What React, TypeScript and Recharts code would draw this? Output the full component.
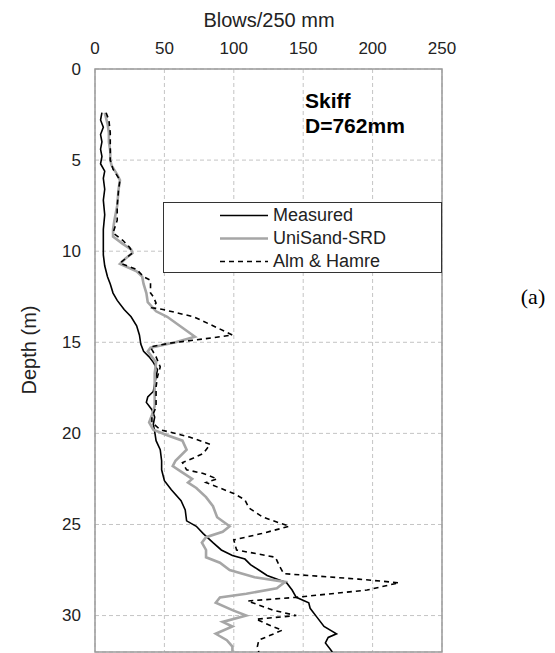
import { CartesianGrid, Legend, Line, LineChart, ReferenceArea, XAxis, YAxis } from "recharts";

const blowTicks = [0, 50, 100, 150, 200, 250];
const depthTicks = [0, 5, 10, 15, 20, 25, 30];

// [depth (m), blows/250 mm]
const measured: [number, number][] = [
  [2.4, 5], [2.8, 4], [3.2, 6], [3.6, 4], [4.0, 5], [4.4, 4], [4.8, 5], [5.2, 4], [5.6, 7], [6.0, 6],
  [6.6, 7], [7.2, 6], [8.0, 7], [8.8, 6], [9.6, 6], [10.2, 6], [10.8, 7], [11.4, 9], [11.8, 11], [12.3, 13],
  [12.7, 16], [13.2, 21], [13.6, 26], [14.1, 30], [14.6, 32], [15.1, 33], [15.5, 35], [15.8, 39], [16.1, 42], [16.5, 45],
  [16.9, 44], [17.3, 43], [17.7, 42], [18.0, 38], [18.3, 37], [18.7, 41], [19.1, 43], [19.5, 42], [19.9, 43], [20.4, 44],
  [20.9, 47], [21.5, 48], [22.0, 48], [22.6, 50], [23.1, 55], [23.7, 62], [24.2, 65], [24.8, 66], [25.1, 73], [25.5, 78],
  [26.0, 85], [26.4, 91], [26.7, 99], [26.9, 108], [27.2, 112], [27.5, 118], [27.8, 124], [28.2, 138], [28.6, 142], [29.0, 145],
  [29.3, 154], [29.6, 155], [30.1, 160], [30.6, 165], [31.0, 174], [31.2, 168], [31.5, 166], [32.0, 171],
];

const uniSand: [number, number][] = [
  [2.4, 7], [3.0, 9], [3.5, 10], [4.0, 10], [4.5, 11], [5.0, 11], [5.3, 12], [5.8, 16], [6.1, 18], [6.6, 17],
  [7.5, 16], [8.3, 14], [8.8, 13], [9.2, 13], [9.6, 20], [9.9, 26], [10.1, 27], [10.4, 22], [10.7, 18], [11.1, 30],
  [11.4, 34], [11.8, 35], [12.3, 37], [12.8, 38], [13.3, 44], [13.6, 52], [14.2, 63], [14.7, 72], [15.0, 58], [15.3, 40],
  [15.5, 38], [16.1, 44], [16.7, 43], [17.3, 43], [18.0, 43], [18.5, 43], [19.0, 41], [19.4, 39], [19.8, 42], [20.1, 52],
  [20.4, 63], [20.9, 66], [21.5, 58], [21.8, 56], [22.1, 62], [22.5, 70], [22.7, 67], [23.0, 73], [23.5, 80], [24.0, 85],
  [24.6, 88], [25.1, 97], [25.4, 92], [25.7, 80], [26.0, 77], [26.4, 80], [26.8, 80], [27.1, 90], [27.5, 97], [27.9, 115],
  [28.15, 137], [28.5, 131], [28.8, 109], [29.0, 90], [29.3, 87], [29.7, 99], [30.0, 109], [30.35, 92], [30.6, 99], [31.0, 87],
  [31.35, 95], [31.7, 99], [32.0, 99],
];

const almHamre: [number, number][] = [
  [2.4, 8], [2.8, 10], [3.5, 11], [4.2, 11], [5.0, 11], [5.5, 13], [6.1, 18], [6.6, 17], [7.5, 16], [8.3, 16],
  [9.0, 13], [9.4, 20], [9.8, 25], [10.1, 27], [10.65, 18], [11.0, 30], [11.4, 35], [11.6, 40], [12.3, 40], [12.5, 42],
  [12.85, 44], [13.1, 41], [13.2, 49], [13.6, 71], [14.2, 88], [14.6, 99], [14.8, 80], [15.05, 54], [15.25, 40], [15.4, 41],
  [15.8, 44], [16.35, 47], [16.9, 45], [17.45, 44], [18.0, 44], [18.55, 44], [19.1, 41], [19.4, 41], [19.8, 47], [20.2, 68],
  [20.6, 83], [21.1, 78], [21.35, 71], [21.6, 63], [22.0, 66], [22.2, 78], [22.5, 88], [22.7, 80], [23.0, 90], [23.3, 100],
  [23.65, 108], [24.1, 111], [24.6, 121], [25.1, 140], [25.5, 120], [25.85, 100], [26.4, 102], [26.8, 130], [27.3, 133], [27.7, 136],
  [28.0, 190], [28.2, 219], [28.6, 196], [29.0, 145], [29.2, 110], [29.7, 128], [30.0, 145], [30.2, 116], [30.6, 128], [30.8, 135],
  [31.35, 118], [31.7, 117], [32.0, 118],
];

const toRows = (pts: [number, number][]) => pts.map(([d, v]) => ({ d, v }));

const series = [
  { name: "Measured", rows: toRows(measured), stroke: "#000000", width: 1.6, dash: undefined as string | undefined },
  { name: "UniSand-SRD", rows: toRows(uniSand), stroke: "#a6a6a6", width: 2.6, dash: undefined as string | undefined },
  { name: "Alm & Hamre", rows: toRows(almHamre), stroke: "#000000", width: 1.6, dash: "5 4" },
];

const sans = "'Liberation Sans', Arial, sans-serif";

const BlowTick = (props: any) => (
  <text x={props.x} y={48} textAnchor="middle" dominantBaseline="central" fontSize={17} fontFamily={sans} fill="#222">
    {props.payload.value}
  </text>
);

const DepthTick = (props: any) => (
  <text x={81} y={props.y} textAnchor="end" dominantBaseline="central" fontSize={17} fontFamily={sans} fill="#222">
    {props.payload.value}
  </text>
);

// legend rows follow the series order, not the order recharts hands back
const LegendBox = () => (
  <div style={{ width: 279, height: 71, boxSizing: "border-box", border: "1px solid #333", background: "#fff", paddingTop: 1 }}>
    {series.map((s) => (
      <div key={s.name} style={{ display: "flex", alignItems: "center", height: 23 }}>
        <svg width={104} height={23} style={{ flex: "none" }}>
          <line x1={56} x2={104} y1={11.5} y2={11.5} stroke={s.stroke} strokeWidth={s.width} strokeDasharray={s.dash} />
        </svg>
        <span style={{ marginLeft: 5, fontSize: 18, fontFamily: sans, color: "#222", lineHeight: "23px" }}>{s.name}</span>
      </div>
    ))}
  </div>
);

export default function App() {
  return (
    <div style={{ position: "absolute", left: 0, top: 0, width: 555, height: 653, background: "#fff" }}>
      <LineChart layout="vertical" width={555} height={653} margin={{ top: 0, right: 113, bottom: 1, left: 0 }}>
        <CartesianGrid stroke="#c4c4c4" strokeDasharray="4 3" />
        <XAxis
          type="number"
          orientation="top"
          domain={[0, 250]}
          ticks={blowTicks}
          height={69}
          axisLine={false}
          tickLine={false}
          tick={BlowTick}
          interval={0}
        />
        <YAxis
          type="number"
          dataKey="d"
          domain={[0, 32]}
          ticks={depthTicks}
          width={95}
          axisLine={false}
          tickLine={false}
          tick={DepthTick}
          interval={0}
          allowDataOverflow
        />
        {series.map((s) => (
          <Line
            key={s.name}
            data={s.rows}
            dataKey="v"
            name={s.name}
            type="linear"
            stroke={s.stroke}
            strokeWidth={s.width}
            strokeDasharray={s.dash}
            dot={false}
            activeDot={false}
            isAnimationActive={false}
          />
        ))}
        <ReferenceArea x1={0} x2={250} y1={0} y2={32} fill="none" stroke="#9a9a9a" strokeWidth={1.5} />
        <Legend
          layout="vertical"
          align="center"
          verticalAlign="middle"
          content={LegendBox}
          wrapperStyle={{ left: 163, top: 202, width: 279, height: 71 }}
        />
      </LineChart>
      <div style={{ position: "absolute", left: 269, top: 20, transform: "translate(-50%, -50%)", fontSize: 20, fontFamily: sans, color: "#222", whiteSpace: "nowrap" }}>
        Blows/250 mm
      </div>
      <div style={{ position: "absolute", left: 29, top: 350, transform: "translate(-50%, -50%) rotate(-90deg)", fontSize: 20, fontFamily: sans, color: "#222", whiteSpace: "nowrap" }}>
        Depth (m)
      </div>
      <div style={{ position: "absolute", left: 305, top: 88, fontSize: 21, fontWeight: "bold", fontFamily: sans, lineHeight: "25px", color: "#000" }}>
        Skiff
        <br />
        D=762mm
      </div>
      <div style={{ position: "absolute", left: 533, top: 297, transform: "translate(-50%, -50%)", fontSize: 22, fontFamily: "'Liberation Serif', 'Times New Roman', serif", color: "#000" }}>
        (a)
      </div>
    </div>
  );
}
